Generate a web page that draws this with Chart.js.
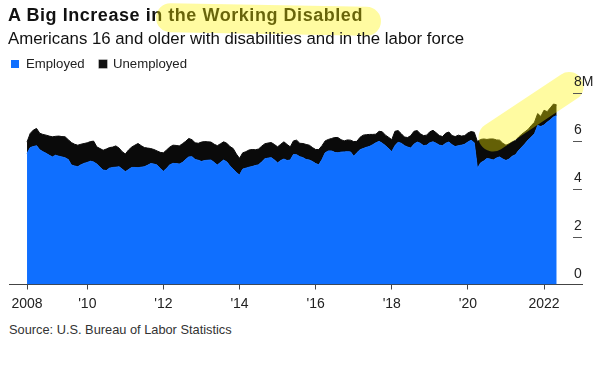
<!DOCTYPE html>
<html>
<head>
<meta charset="utf-8">
<script src="https://cdn.jsdelivr.net/npm/chart.js@4.4.0/dist/chart.umd.min.js"></script>
<style>
  body { margin: 0; background: #fff; font-family: "Liberation Sans", Arial, sans-serif; color: #111; }
  #page { position: relative; width: 600px; height: 390px; overflow: hidden; }
  .txt { position: absolute; white-space: nowrap; }
  #title { left: 8px; top: 5.8px; font-size: 18px; line-height: 18px; font-weight: bold; letter-spacing: 0.55px; color: #111; }
  #subtitle { left: 8px; top: 30.8px; font-size: 16.8px; line-height: 16.8px; color: #111; }
  #legend { left: 0; top: 57px; font-size: 13.2px; line-height: 13.2px; color: #222; }
  .sw { position: absolute; top: 3px; width: 8px; height: 8px; }
  #source { left: 9px; top: 324.2px; font-size: 12.8px; line-height: 12.8px; color: #333; }
  #marker { position: absolute; left: 156px; top: 5px; width: 225px; height: 29px; border-radius: 14.5px;
            background: rgba(255, 245, 0, 0.37); transform: rotate(1deg); }
  #wrap { position: absolute; left: 0; top: 0; width: 600px; height: 320px; }
</style>
</head>
<body>
<div id="page">
  <div id="wrap"><canvas id="chart" width="600" height="320"></canvas></div>
  <div class="txt" id="title">A Big Increase in the Working Disabled</div>
  <div id="marker"></div>
  <div class="txt" id="subtitle">Americans 16 and older with disabilities and in the labor force</div>
  <div class="txt" id="legend">
    <span class="sw" style="left:11px;background:#0f6fff;"></span>
    <span class="txt" style="left:26px;top:0;">Employed</span>
    <span class="sw" style="left:99px;background:#111;box-shadow:0 0 0 0.5px #666;"></span>
    <span class="txt" style="left:113px;top:0;">Unemployed</span>
  </div>
  <div class="txt" id="source">Source: U.S. Bureau of Labor Statistics</div>
</div>
<script>
"use strict";

// monthly series, June 2008 .. May 2022, millions of people
const startYear = 2008;
const startMonth = 6;

const employed = [
    5.47, 5.72, 5.76, 5.80, 5.63, 5.55, 5.48,                               // 2008
    5.40, 5.33, 5.40, 5.36, 5.33, 5.29, 5.22, 4.99, 4.95, 4.92, 5.00, 5.06, // 2009
    5.10, 5.15, 5.12, 5.03, 4.90, 4.78, 4.76, 4.86, 4.89, 4.90, 4.92, 4.82, // 2010
    4.71, 4.80, 4.89, 4.89, 4.88, 4.90, 4.92, 4.98, 5.05, 5.03, 4.99, 4.85, // 2011
    4.73, 4.85, 5.00, 5.06, 5.05, 5.03, 5.10, 5.22, 5.33, 5.34, 5.22, 5.19, // 2012
    5.14, 5.18, 5.19, 5.20, 5.10, 4.99, 5.10, 5.20, 5.12, 4.95, 4.82, 4.68, // 2013
    4.57, 4.82, 4.86, 4.90, 4.93, 4.97, 5.00, 5.12, 5.25, 5.28, 5.30, 5.20, // 2014
    5.08, 5.18, 5.24, 5.18, 5.20, 5.43, 5.42, 5.34, 5.30, 5.22, 5.20, 5.14, // 2015
    5.05, 5.00, 5.22, 5.50, 5.58, 5.58, 5.52, 5.50, 5.53, 5.54, 5.55, 5.54, // 2016
    5.36, 5.50, 5.63, 5.68, 5.73, 5.77, 5.84, 5.92, 5.98, 5.90, 5.80, 5.68, // 2017
    5.55, 5.80, 5.94, 5.90, 5.80, 5.74, 5.70, 5.86, 5.95, 5.90, 5.80, 5.82, // 2018
    5.92, 5.96, 5.90, 5.82, 5.80, 5.90, 5.95, 5.84, 5.76, 5.80, 5.82, 5.86, // 2019
    5.95, 6.03, 5.92, 4.85, 5.08, 5.16, 5.26, 5.24, 5.20, 5.28, 5.33, 5.24, // 2020
    5.18, 5.24, 5.36, 5.42, 5.60, 5.74, 5.88, 6.04, 6.16, 6.30, 6.64, 6.60, // 2021
    6.66, 6.78, 6.88, 7.00, 7.06                                            // 2022
];

const unemployed = [
    0.48, 0.59, 0.69, 0.72, 0.69, 0.72, 0.76,
    0.80, 0.84, 0.79, 0.84, 0.85, 0.88, 0.83, 0.94, 0.91, 0.90, 0.86, 0.83,
    0.82, 0.82, 0.87, 0.72, 0.78, 0.83, 0.90, 0.86, 0.85, 0.89, 0.78, 0.73,
    0.74, 0.82, 0.85, 0.93, 1.01, 0.90, 0.80, 0.72, 0.63, 0.61, 0.59, 0.67,
    0.77, 0.77, 0.74, 0.76, 0.76, 0.76, 0.78, 0.76, 0.77, 0.71, 0.70, 0.71,
    0.81, 0.79, 0.77, 0.75, 0.76, 0.81, 0.78, 0.76, 0.78, 0.81, 0.86, 0.77,
    0.70, 0.68, 0.69, 0.72, 0.71, 0.66, 0.66, 0.66, 0.63, 0.63, 0.63, 0.65,
    0.67, 0.68, 0.72, 0.67, 0.55, 0.57, 0.61, 0.56, 0.59, 0.63, 0.62, 0.58,
    0.59, 0.64, 0.58, 0.50, 0.48, 0.52, 0.62, 0.64, 0.52, 0.46, 0.49, 0.49,
    0.61, 0.48, 0.52, 0.56, 0.53, 0.50, 0.43, 0.36, 0.42, 0.48, 0.44, 0.47,
    0.50, 0.60, 0.49, 0.40, 0.36, 0.40, 0.52, 0.54, 0.48, 0.40, 0.42, 0.42,
    0.46, 0.48, 0.44, 0.40, 0.38, 0.42, 0.42, 0.38, 0.42, 0.44, 0.38, 0.36,
    0.38, 0.36, 0.44, 1.12, 0.98, 0.92, 0.80, 0.84, 0.88, 0.76, 0.70, 0.66,
    0.64, 0.64, 0.60, 0.60, 0.56, 0.54, 0.50, 0.44, 0.48, 0.48, 0.50, 0.42,
    0.62, 0.44, 0.50, 0.54, 0.44
];

const xTickValues = [2008 + 5 / 12, 2010, 2012, 2014, 2016, 2018, 2020, 2022];
const xTickLabels = ["2008", "'10", "'12", "'14", "'16", "'18", "'20", "2022"];
const yTickValues = [0, 2, 4, 6, 8];
const yTickLabels = ["0", "2", "4", "6", "8M"];

// highlighter stroke drawn over the recent surge (in data units)
const markFrom = [2020.66, 6.16];
const markTo = [2022.66, 8.27];

const BLUE = "#0f6fff";
const BLACK = "#0a0a0a";
const FONT = "'Liberation Sans', Arial, sans-serif";

function monthX(i) {
    return startYear + (startMonth - 1 + i) / 12;
}

const employedPts = employed.map((v, i) => ({ x: monthX(i), y: v }));
const unemployedPts = unemployed.map((v, i) => ({ x: monthX(i), y: v }));

const rightAxis = {
    id: "rightAxis",
    afterDraw(chart) {
        const ctx = chart.ctx;
        const y = chart.scales.y;
        const right = chart.chartArea.right;
        ctx.save();
        ctx.font = "14px " + FONT;
        ctx.fillStyle = "#222";
        ctx.textAlign = "left";
        ctx.textBaseline = "alphabetic";
        yTickValues.forEach((v, i) => {
            const p = Math.round(y.getPixelForValue(v)) + 0.5;
            if (v !== 0) {
                ctx.strokeStyle = "#555";
                ctx.lineWidth = 1;
                ctx.beginPath();
                ctx.moveTo(right - 9, p);
                ctx.lineTo(right, p);
                ctx.stroke();
            }
            ctx.fillText(yTickLabels[i], right - 8, p - 7.5);
        });
        ctx.restore();
    }
};

const highlighter = {
    id: "highlighter",
    afterDraw(chart) {
        const ctx = chart.ctx;
        const sx = chart.scales.x, sy = chart.scales.y;
        ctx.save();
        ctx.strokeStyle = "rgba(255, 245, 0, 0.37)";
        ctx.lineWidth = 29;
        ctx.lineCap = "round";
        ctx.beginPath();
        ctx.moveTo(sx.getPixelForValue(markFrom[0]), sy.getPixelForValue(markFrom[1]));
        ctx.lineTo(sx.getPixelForValue(markTo[0]), sy.getPixelForValue(markTo[1]));
        ctx.stroke();
        ctx.restore();
    }
};

new Chart(document.getElementById("chart").getContext("2d"), {
    type: "line",
    data: {
        datasets: [
            {
                label: "Employed",
                data: employedPts,
                backgroundColor: BLUE,
                borderColor: BLUE,
                borderWidth: 1,
                fill: "origin"
            },
            {
                label: "Unemployed",
                data: unemployedPts,
                backgroundColor: BLACK,
                borderColor: BLACK,
                borderWidth: 1,
                fill: "-1"
            }
        ]
    },
    options: {
        responsive: false,
        animation: false,
        devicePixelRatio: 1,
        layout: { padding: { left: 9, right: 18, top: 93, bottom: 0 } },
        elements: { point: { radius: 0 }, line: { tension: 0 } },
        plugins: { legend: { display: false }, tooltip: { enabled: false } },
        scales: {
            x: {
                type: "linear",
                min: 2007.943,
                max: 2022.998,
                afterBuildTicks: s => { s.ticks = xTickValues.map(v => ({ value: v })); },
                afterFit: s => { s.height = 35.5; },
                grid: { drawOnChartArea: false, drawTicks: true, tickLength: 5, color: "#444" },
                border: { color: "#444", width: 1 },
                ticks: {
                    autoSkip: false,
                    maxRotation: 0,
                    padding: 6,
                    color: "#222",
                    font: { family: FONT, size: 14 },
                    callback: (v, i) => xTickLabels[i]
                }
            },
            y: {
                display: false,
                stacked: true,
                min: 0,
                max: 8
            }
        }
    },
    plugins: [highlighter, rightAxis]
});
</script>
</body>
</html>
